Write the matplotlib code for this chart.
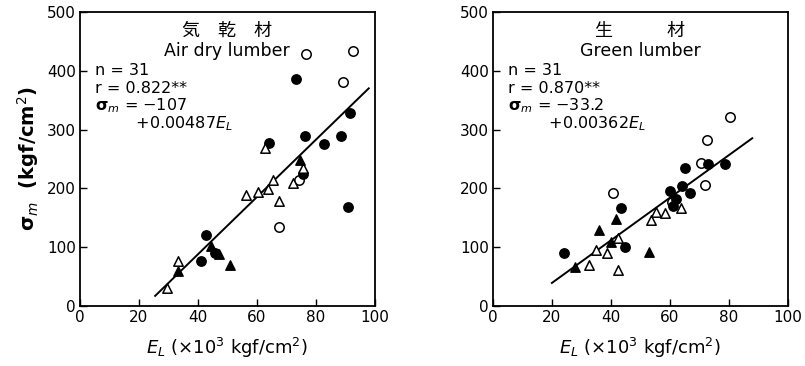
import matplotlib
matplotlib.use("Agg")
import matplotlib.pyplot as plt
import numpy as np

plt.rcParams['font.family'] = ['DejaVu Sans', 'Noto Sans CJK JP']
plt.rcParams['mathtext.fontset'] = 'dejavusans'

# ---- Air dry lumber (left) ----
air_open_circle_x = [76.7, 92.5, 89.4, 67.7, 74.4]
air_open_circle_y = [428.7, 433, 381.7, 134.4, 215]
air_filled_circle_x = [73.3, 91.7, 76.5, 64.3, 82.9, 88.6, 75.6, 90.9, 42.6, 45.7, 41.1]
air_filled_circle_y = [385.7, 329, 289, 277.8, 275, 289, 225, 167.6, 120.6, 90, 76]
air_open_tri_x = [62.8, 75.6, 65.4, 63.7, 60.3, 56.2, 67.7, 72.2, 33.2, 29.6]
air_open_tri_y = [268, 235, 215, 199, 193.5, 189, 179, 209, 76, 30]
air_filled_tri_x = [74.5, 44.5, 47.1, 51.0, 33.2]
air_filled_tri_y = [248, 101.7, 88.5, 70, 60]
air_fit = (-107, 0.00487, 25.5, 98)   # intercept, slope (per kgf/cm2), x range (x10^3)

# ---- Green lumber (right) ----
grn_open_circle_x = [80.6, 72.5, 70.5, 71.8, 40.6, 60.7]
grn_open_circle_y = [322, 282.5, 243, 206, 191.8, 177.5]
grn_filled_circle_x = [65.1, 73.1, 78.9, 64.0, 60.0, 66.8, 62.2, 61.0, 43.6, 44.7, 24.2]
grn_filled_circle_y = [234, 241, 241, 204, 196, 193, 181.6, 170, 167, 101, 90.7]
grn_open_tri_x = [53.6, 55.4, 58.4, 63.8, 42.3, 34.9, 38.6, 32.5, 42.3]
grn_open_tri_y = [146, 160.5, 157.8, 166, 115, 95, 90.7, 69.8, 61.3]
grn_filled_tri_x = [41.8, 35.9, 40.1, 52.8, 27.7]
grn_filled_tri_y = [147.6, 129, 109.5, 92.5, 67]
grn_fit = (-33.2, 0.00362, 20, 88)

xticks = [0, 20, 40, 60, 80, 100]
yticks = [0, 100, 200, 300, 400, 500]

fig = plt.figure(figsize=(8.05, 3.66), dpi=100)
ax1 = fig.add_axes([0.0994, 0.164, 0.366, 0.803])
ax2 = fig.add_axes([0.6124, 0.164, 0.366, 0.803])

def draw(ax, oc, fc, ot, ft, fit, title_jp, title_en, stats):
    ms = 46
    ax.scatter(oc[0], oc[1], s=ms, marker='o', facecolors='white', edgecolors='black', linewidths=1.1, zorder=3)
    ax.scatter(fc[0], fc[1], s=ms, marker='o', facecolors='black', edgecolors='black', linewidths=1.0, zorder=3)
    ax.scatter(ot[0], ot[1], s=ms, marker='^', facecolors='white', edgecolors='black', linewidths=1.1, zorder=3)
    ax.scatter(ft[0], ft[1], s=ms, marker='^', facecolors='black', edgecolors='black', linewidths=1.0, zorder=3)
    a, b, x0, x1 = fit
    xs = np.array([x0, x1])
    ax.plot(xs, a + b * 1000 * xs, color='black', lw=1.4, zorder=2)
    ax.set_xlim(0, 100)
    ax.set_ylim(0, 500)
    ax.set_xticks(xticks)
    ax.set_yticks(yticks)
    ax.tick_params(direction='in', length=5, width=1, labelsize=11, pad=3,
                   top=False, right=False)
    for sp in ax.spines.values():
        sp.set_linewidth(1.3)
    ax.text(50, 468, title_jp, ha='center', va='center', fontsize=13)
    ax.text(50, 433, title_en, ha='center', va='center', fontsize=12.5)
    y = 400
    for line in stats:
        ax.text(5, y, line, ha='left', va='center', fontsize=11.5)
        y -= 30
    ax.set_xlabel(r'$\mathit{E_L}$ (×10$^3$ kgf/cm$^2$)', fontsize=13, labelpad=8)

draw(ax1,
     (air_open_circle_x, air_open_circle_y),
     (air_filled_circle_x, air_filled_circle_y),
     (air_open_tri_x, air_open_tri_y),
     (air_filled_tri_x, air_filled_tri_y),
     air_fit, '気　乾　材', 'Air dry lumber',
     ['n = 31', 'r = 0.822**', r'$\mathbf{\sigma}_m$ = −107', r'        +0.00487$E_L$'])
draw(ax2,
     (grn_open_circle_x, grn_open_circle_y),
     (grn_filled_circle_x, grn_filled_circle_y),
     (grn_open_tri_x, grn_open_tri_y),
     (grn_filled_tri_x, grn_filled_tri_y),
     grn_fit, '生　　　材', 'Green lumber',
     ['n = 31', 'r = 0.870**', r'$\mathbf{\sigma}_m$ = −33.2', r'        +0.00362$E_L$'])

ax1.set_ylabel(r'$\mathbf{\sigma}_m$  (kgf/cm$^2$)', fontsize=14, fontweight='bold', labelpad=4)

fig.savefig('out.png', dpi=100)
